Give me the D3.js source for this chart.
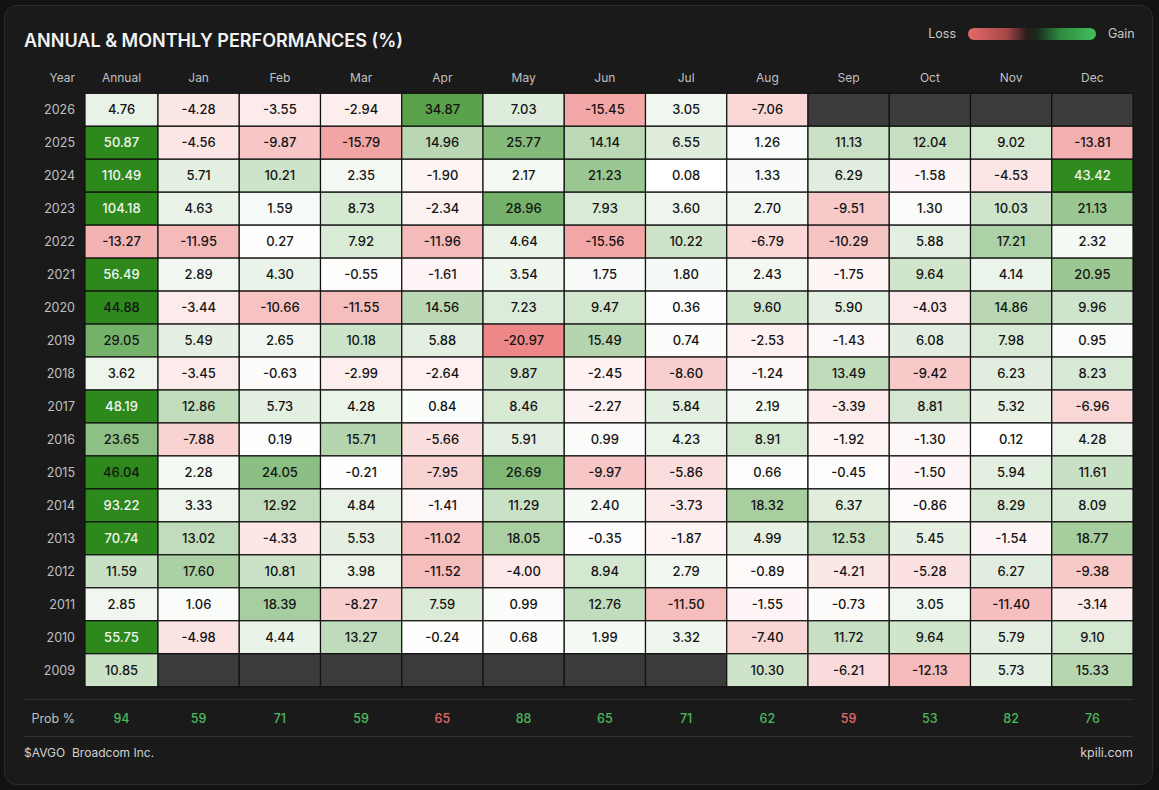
<!DOCTYPE html>
<html><head><meta charset="utf-8">
<script src="https://cdn.jsdelivr.net/npm/d3@7"></script>
<style>
html,body{margin:0;padding:0;background:#121212;}
svg{display:block;font-family:Inter,"Noto Sans",sans-serif;}
</style></head>
<body>
<svg id="chart" width="1159" height="790"></svg>
<script>
const columns = ["Annual","Jan","Feb","Mar","Apr","May","Jun","Jul","Aug","Sep","Oct","Nov","Dec"];
const years = [2026,2025,2024,2023,2022,2021,2020,2019,2018,2017,2016,2015,2014,2013,2012,2011,2010,2009];
const values = [
  [4.76,-4.28,-3.55,-2.94,34.87,7.03,-15.45,3.05,-7.06,null,null,null,null],
  [50.87,-4.56,-9.87,-15.79,14.96,25.77,14.14,6.55,1.26,11.13,12.04,9.02,-13.81],
  [110.49,5.71,10.21,2.35,-1.90,2.17,21.23,0.08,1.33,6.29,-1.58,-4.53,43.42],
  [104.18,4.63,1.59,8.73,-2.34,28.96,7.93,3.60,2.70,-9.51,1.30,10.03,21.13],
  [-13.27,-11.95,0.27,7.92,-11.96,4.64,-15.56,10.22,-6.79,-10.29,5.88,17.21,2.32],
  [56.49,2.89,4.30,-0.55,-1.61,3.54,1.75,1.80,2.43,-1.75,9.64,4.14,20.95],
  [44.88,-3.44,-10.66,-11.55,14.56,7.23,9.47,0.36,9.60,5.90,-4.03,14.86,9.96],
  [29.05,5.49,2.65,10.18,5.88,-20.97,15.49,0.74,-2.53,-1.43,6.08,7.98,0.95],
  [3.62,-3.45,-0.63,-2.99,-2.64,9.87,-2.45,-8.60,-1.24,13.49,-9.42,6.23,8.23],
  [48.19,12.86,5.73,4.28,0.84,8.46,-2.27,5.84,2.19,-3.39,8.81,5.32,-6.96],
  [23.65,-7.88,0.19,15.71,-5.66,5.91,0.99,4.23,8.91,-1.92,-1.30,0.12,4.28],
  [46.04,2.28,24.05,-0.21,-7.95,26.69,-9.97,-5.86,0.66,-0.45,-1.50,5.94,11.61],
  [93.22,3.33,12.92,4.84,-1.41,11.29,2.40,-3.73,18.32,6.37,-0.86,8.29,8.09],
  [70.74,13.02,-4.33,5.53,-11.02,18.05,-0.35,-1.87,4.99,12.53,5.45,-1.54,18.77],
  [11.59,17.60,10.81,3.98,-11.52,-4.00,8.94,2.79,-0.89,-4.21,-5.28,6.27,-9.38],
  [2.85,1.06,18.39,-8.27,7.59,0.99,12.76,-11.50,-1.55,-0.73,3.05,-11.40,-3.14],
  [55.75,-4.98,4.44,13.27,-0.24,0.68,1.99,3.32,-7.40,11.72,9.64,5.79,9.10],
  [10.85,null,null,null,null,null,null,null,10.30,-6.21,-12.13,5.73,15.33]
];
const probValues = [94,59,71,59,65,88,65,71,62,59,53,82,76];
const probIsGain = [true,true,true,true,false,true,true,true,true,false,true,true,true];

const svg = d3.select("#chart");

// card
svg.append("rect").attr("x",4.5).attr("y",5.5).attr("width",1148).attr("height",779)
  .attr("rx",12).attr("fill","#1a1a1a").attr("stroke","#2c2c2c");

svg.append("text").attr("x",24).attr("y",47).attr("fill","#f2f2f2")
  .attr("font-size",18).attr("font-weight",600).text("ANNUAL & MONTHLY PERFORMANCES (%)");

// legend
const defs = svg.append("defs");
const lg = defs.append("linearGradient").attr("id","lg");
[[0,"#e46a6a"],[0.3,"#a84848"],[0.46,"#2a1c1c"],[0.54,"#1a2a1c"],[0.72,"#2f8a41"],[1,"#43bf5c"]]
  .forEach(([o,c])=>lg.append("stop").attr("offset",o).attr("stop-color",c));
svg.append("rect").attr("x",968).attr("y",28).attr("width",128).attr("height",12).attr("rx",6).attr("fill","url(#lg)");
svg.append("text").attr("x",956).attr("y",38).attr("text-anchor","end").attr("fill","#c8c8c8").attr("font-size",12.5).text("Loss");
svg.append("text").attr("x",1108).attr("y",38).attr("fill","#c8c8c8").attr("font-size",12.5).text("Gain");

// scales
const gridLeft = 85, annualW = 73, gridRight = 1133;
const x = d3.scaleBand().domain(columns.slice(1)).range([gridLeft+annualW, gridRight]);
function colX(c){ return c==="Annual" ? gridLeft : x(c); }
function colW(c){ return c==="Annual" ? annualW : x.bandwidth(); }
const y = d3.scaleBand().domain(years).range([93.3, 686.7]);

const gainScale = d3.scaleLinear().domain([0,44]).range(["#ffffff","#2d891c"]).clamp(true);
const lossScale = d3.scaleLinear().domain([0,-25]).range(["#ffffff","#eb7070"]).clamp(true);
function cellColor(v){ return v==null ? "#3b3b3b" : (v>=0 ? gainScale(v) : lossScale(v)); }

// headers
svg.append("text").attr("x",75).attr("y",81.5).attr("text-anchor","end").attr("fill","#c0c0c0").attr("font-size",12).text("Year");
columns.forEach(c=>{
  svg.append("text").attr("x",colX(c)+colW(c)/2).attr("y",81.5).attr("text-anchor","middle")
    .attr("fill","#c0c0c0").attr("font-size",12).text(c);
});

const colMax = columns.map((c,j)=>d3.max(values,r=>r[j]));

const cells = [];
years.forEach((yr,i)=>columns.forEach((c,j)=>cells.push({yr,c,j,v:values[i][j]})));

const g = svg.append("g");
g.selectAll("rect.cell").data(cells).join("rect").attr("class","cell")
  .attr("x",d=>colX(d.c)).attr("y",d=>y(d.yr))
  .attr("width",d=>colW(d.c)).attr("height",y.bandwidth())
  .attr("fill",d=>cellColor(d.v)).attr("stroke","#111").attr("stroke-width",1.2);

g.selectAll("text.val").data(cells.filter(d=>d.v!=null)).join("text").attr("class","val")
  .attr("x",d=>colX(d.c)+colW(d.c)/2).attr("y",d=>y(d.yr)+y.bandwidth()/2+4.6)
  .attr("text-anchor","middle").attr("font-size",13).attr("font-weight",500)
  .attr("fill",d=>(d.v>=47 || (d.v===colMax[d.j] && d.v>40)) ? "#f4f4f4" : "#141414")
  .text(d=>d.v.toFixed(2));

svg.selectAll("text.year").data(years).join("text").attr("class","year")
  .attr("x",75).attr("y",d=>y(d)+y.bandwidth()/2+4.5).attr("text-anchor","end")
  .attr("fill","#c0c0c0").attr("font-size",12.5).text(d=>d);

// separators
svg.append("line").attr("x1",24).attr("x2",1133).attr("y1",699.5).attr("y2",699.5).attr("stroke","#333");
svg.append("line").attr("x1",24).attr("x2",1133).attr("y1",736.5).attr("y2",736.5).attr("stroke","#333");

svg.append("text").attr("x",75).attr("y",723).attr("text-anchor","end").attr("fill","#c0c0c0").attr("font-size",12.5).text("Prob %");
svg.selectAll("text.prob").data(probValues).join("text").attr("class","prob")
  .attr("x",(d,j)=>colX(columns[j])+colW(columns[j])/2).attr("y",723).attr("text-anchor","middle")
  .attr("font-size",12.5).attr("font-weight",500)
  .attr("fill",(d,j)=>probIsGain[j] ? "#4cb85c" : "#e06a6a").text(d=>d);

svg.append("text").attr("x",24).attr("y",757).attr("fill","#d0d0d0").attr("font-size",12).text("$AVGO");
svg.append("text").attr("x",72).attr("y",757).attr("fill","#d0d0d0").attr("font-size",12).text("Broadcom Inc.");
svg.append("text").attr("x",1133).attr("y",757).attr("text-anchor","end").attr("fill","#d0d0d0").attr("font-size",12.5).text("kpili.com");
</script>
</body></html>
